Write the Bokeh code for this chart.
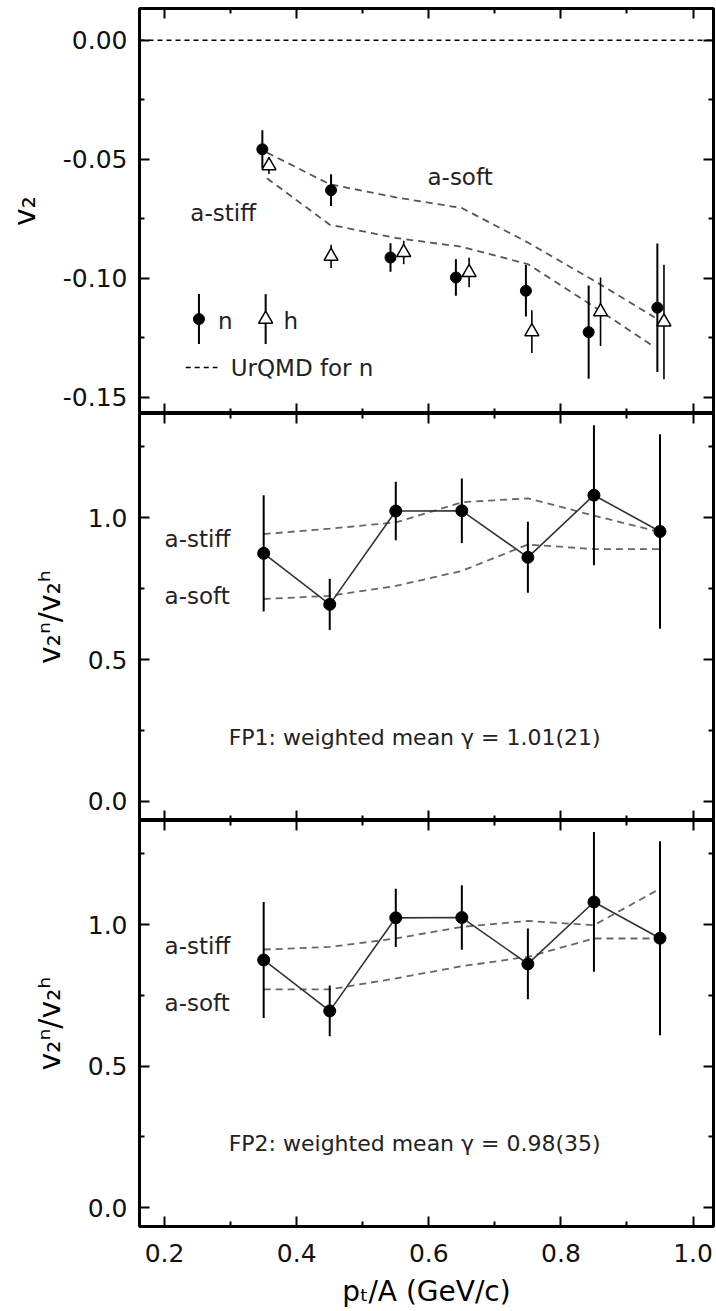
from bokeh.plotting import figure
from bokeh.layouts import column
from bokeh.models import (ColumnDataSource, FixedTicker, PrintfTickFormatter,
                          LinearAxis, Range1d, Label, Span, CustomLabelingPolicy)
from bokeh.embed import file_html
from bokeh.resources import INLINE

# ---------------- data ----------------
# top panel: elliptic flow v2 of neutrons (n) and hydrogen (h)
pt_n = [0.348, 0.452, 0.542, 0.641, 0.747, 0.842, 0.946]
v2_n = [-0.0458, -0.0630, -0.0913, -0.0997, -0.1053, -0.1227, -0.1124]
v2_n_err = [0.0080, 0.0067, 0.0060, 0.0077, 0.0108, 0.0196, 0.0270]

pt_h = [0.358, 0.452, 0.562, 0.661, 0.756, 0.860, 0.956]
v2_h = [-0.0527, -0.0908, -0.0892, -0.0976, -0.1225, -0.1141, -0.1184]
v2_h_err = [0.0035, 0.0049, 0.0049, 0.0062, 0.0090, 0.0144, 0.0241]

# UrQMD predictions for n
pt_model = [0.355, 0.45, 0.55, 0.65, 0.75, 0.85, 0.942]
v2_soft = [-0.0472, -0.0605, -0.0660, -0.0705, -0.0850, -0.1010, -0.1165]
v2_stiff = [-0.0580, -0.0775, -0.0831, -0.0868, -0.0941, -0.1120, -0.1290]

# ratio v2n / v2h
pt_ratio = [0.35, 0.45, 0.55, 0.65, 0.75, 0.85, 0.95]
ratio = [0.875, 0.695, 1.024, 1.025, 0.861, 1.080, 0.952]
ratio_err = [0.205, 0.090, 0.103, 0.114, 0.125, 0.247, 0.343]

# FP1 model ratios
fp1_stiff = [0.943, 0.962, 0.984, 1.055, 1.069, 1.008, 0.950]
fp1_soft = [0.714, 0.725, 0.760, 0.813, 0.906, 0.890, 0.890]
# FP2 model ratios
fp2_stiff = [0.912, 0.921, 0.951, 0.992, 1.013, 0.998, 1.127]
fp2_soft = [0.771, 0.771, 0.810, 0.853, 0.886, 0.951, 0.951]

x_major = [0.2, 0.4, 0.6, 0.8, 1.0]
x_minor = [0.3, 0.5, 0.7, 0.9]
top_major = [-0.15, -0.10, -0.05, 0.00]
top_minor = [-0.125, -0.075, -0.025]
ratio_major = [0.0, 0.5, 1.0]
ratio_minor = [0.25, 0.75, 1.25]

# ---------------- styling ----------------
FONT = "DejaVu Sans"
TICK_FS = "25px"
ANN_FS = "23px"
LINE_GREY = "#555555"
X_RANGE = (0.162, 1.031)


def style_axis(ax, major, minor, fmt, show_labels):
    ax.ticker = FixedTicker(ticks=major, minor_ticks=minor)
    ax.formatter = PrintfTickFormatter(format=fmt)
    ax.axis_line_color = None
    ax.major_tick_in = 10
    ax.major_tick_out = 0
    ax.minor_tick_in = 5
    ax.minor_tick_out = 0
    ax.major_tick_line_width = 2
    ax.minor_tick_line_width = 2
    ax.major_tick_line_color = "black"
    ax.minor_tick_line_color = "black"
    if show_labels:
        ax.major_label_text_font = FONT
        ax.major_label_text_font_size = TICK_FS
        ax.major_label_text_color = "#111111"
    else:
        # tick marks only: no labels are drawn on this side
        ax.major_label_policy = CustomLabelingPolicy(code="return []")
        ax.major_label_text_font_size = "0px"
        ax.major_label_standoff = 0


def make_fig(y_range, frame_h, ymajor, yminor, yfmt, ylabel, top_b, bottom_labels):
    p = figure(frame_width=574, frame_height=frame_h,
               x_range=Range1d(*X_RANGE), y_range=Range1d(*y_range),
               output_backend="svg", toolbar_location=None,
               x_axis_location=None, y_axis_location=None,
               min_border_left=139, min_border_right=3,
               min_border_top=top_b, min_border_bottom=0)
    p.grid.visible = False
    p.outline_line_color = "black"
    p.outline_line_width = 3
    p.background_fill_color = "white"
    p.border_fill_color = "white"

    left = LinearAxis()
    style_axis(left, ymajor, yminor, yfmt, True)
    left.major_label_standoff = 12
    left.axis_label = ylabel
    left.axis_label_text_font = FONT
    left.axis_label_text_font_size = "30px"
    left.axis_label_text_font_style = "normal"
    left.axis_label_text_color = "black"
    left.axis_label_standoff = 18
    p.add_layout(left, "left")

    right = LinearAxis()
    style_axis(right, ymajor, yminor, yfmt, False)
    p.add_layout(right, "right")

    above = LinearAxis()
    style_axis(above, x_major, x_minor, "%.1f", False)
    p.add_layout(above, "above")

    below = LinearAxis()
    style_axis(below, x_major, x_minor, "%.1f", bottom_labels)
    if bottom_labels:
        below.major_label_standoff = 17
        below.axis_label = "pₜ/A (GeV/c)"
        below.axis_label_text_font = FONT
        below.axis_label_text_font_size = "28px"
        below.axis_label_text_font_style = "normal"
        below.axis_label_text_color = "black"
        below.axis_label_standoff = 10
    p.add_layout(below, "below")
    return p


def add_text(p, x, y, text, size=ANN_FS, color="#222222"):
    p.add_layout(Label(x=x, y=y, text=text, text_font=FONT, text_font_size=size,
                       text_color=color, text_baseline="middle", text_align="left"))


# ---------------- top panel ----------------
p1 = make_fig((-0.1569, 0.0134), 405, top_major, top_minor, "%.2f", "v₂", 8, False)
p1.add_layout(Span(location=0.0, dimension="width", line_color="black",
                   line_dash="5 4", line_width=1.5))

src_n = ColumnDataSource(dict(x=pt_n, y=v2_n,
                              lo=[a - b for a, b in zip(v2_n, v2_n_err)],
                              hi=[a + b for a, b in zip(v2_n, v2_n_err)]))
src_h = ColumnDataSource(dict(x=pt_h, y=v2_h,
                              lo=[a - b for a, b in zip(v2_h, v2_h_err)],
                              hi=[a + b for a, b in zip(v2_h, v2_h_err)]))

p1.line(pt_model, v2_soft, line_color=LINE_GREY, line_dash="7 5", line_width=1.8)
p1.line(pt_model, v2_stiff, line_color=LINE_GREY, line_dash="7 5", line_width=1.8)

p1.segment(x0="x", y0="lo", x1="x", y1="hi", source=src_h, line_color="black", line_width=1.6)
p1.scatter("x", "y", source=src_h, marker="triangle", size=14, fill_color="white",
           line_color="black", line_width=1.5)
p1.segment(x0="x", y0="lo", x1="x", y1="hi", source=src_n, line_color="black", line_width=2)
p1.scatter("x", "y", source=src_n, marker="circle", size=11, fill_color="black",
           line_color="black")

add_text(p1, 0.598, -0.0575, "a-soft")
add_text(p1, 0.239, -0.0725, "a-stiff")

# legend keys (n, h, UrQMD)
LEG_Y = -0.1172
LEG_BAR = 0.0105
LEG_N_X = 0.252
LEG_H_X = 0.353
leg_src = ColumnDataSource(dict(x=[LEG_N_X, LEG_H_X], lo=[LEG_Y - LEG_BAR] * 2,
                                hi=[LEG_Y + LEG_BAR] * 2))
p1.segment(x0="x", y0="lo", x1="x", y1="hi", source=leg_src, line_color="black", line_width=2)
p1.scatter([LEG_N_X], [LEG_Y], marker="circle", size=11, fill_color="black", line_color="black")
p1.scatter([LEG_H_X], [LEG_Y], marker="triangle", size=14, fill_color="white",
           line_color="black", line_width=1.5)
add_text(p1, 0.281, LEG_Y - 0.0008, "n")
add_text(p1, 0.380, LEG_Y - 0.0008, "h")
p1.line([0.232, 0.280], [-0.1376, -0.1376], line_color="black", line_dash="5 4", line_width=1.5)
add_text(p1, 0.300, -0.1376, "UrQMD for n")


# ---------------- ratio panels ----------------
def ratio_panel(stiff, soft, frame_h, text, top_b, bottom_labels, stiff_y, soft_y):
    p = make_fig((-0.067, 1.368), frame_h, ratio_major, ratio_minor, "%.1f",
                 "v₂ⁿ/v₂ʰ", top_b, bottom_labels)
    src = ColumnDataSource(dict(x=pt_ratio, y=ratio,
                                lo=[a - b for a, b in zip(ratio, ratio_err)],
                                hi=[a + b for a, b in zip(ratio, ratio_err)]))
    p.line(pt_ratio, stiff, line_color="#666666", line_dash="7 5", line_width=1.8)
    p.line(pt_ratio, soft, line_color="#666666", line_dash="7 5", line_width=1.8)
    p.line("x", "y", source=src, line_color="#333333", line_width=1.6)
    p.segment(x0="x", y0="lo", x1="x", y1="hi", source=src, line_color="black", line_width=2)
    p.scatter("x", "y", source=src, marker="circle", size=12, fill_color="black",
              line_color="black")
    add_text(p, 0.200, stiff_y, "a-stiff")
    add_text(p, 0.200, soft_y, "a-soft")
    add_text(p, 0.297, 0.226, text, size="22px")
    return p


p2 = ratio_panel(fp1_stiff, fp1_soft, 407, "FP1: weighted mean γ = 1.01(21)", 0, False,
                 0.927, 0.725)
p3 = ratio_panel(fp2_stiff, fp2_soft, 406, "FP2: weighted mean γ = 0.98(35)", 0, True,
                 0.923, 0.722)

layout = column(p1, p2, p3, spacing=0)

open("out.html", "w").write(file_html(layout, INLINE))
